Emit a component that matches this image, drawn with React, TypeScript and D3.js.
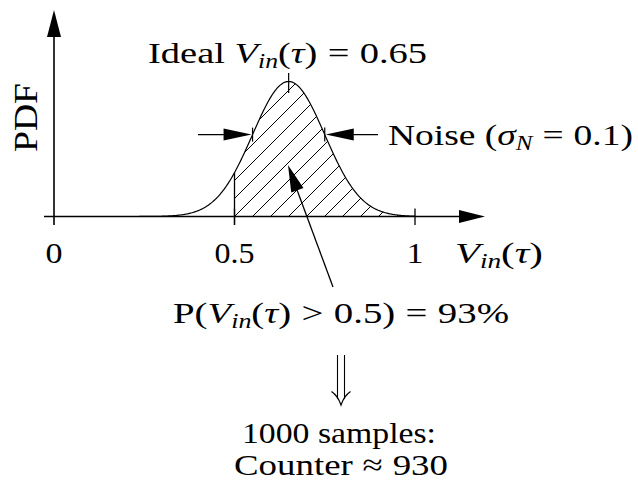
import React from "react";
import * as d3 from "d3";

// Noise model for the sampled input voltage
const MEAN = 0.65;
const SIGMA = 0.1;
const THRESHOLD = 0.5;
const PROBABILITY = 93; // percent above threshold
const SAMPLES = 1000;
const COUNTER = 930;
const X_TICKS = [0, 0.5, 1];
const X_TICK_LABELS = ["0", "0.5", "1"];

const W = 638;
const H = 481;
const FONT = "'Liberation Serif', 'Times New Roman', serif";
const FS = 30;
const SUB = 20;
const REL_GAP = 8; // extra room around relation symbols

const pdf = (v: number) =>
  Math.exp(-0.5 * ((v - MEAN) / SIGMA) ** 2) / (SIGMA * Math.sqrt(2 * Math.PI));

type Seg = { t: string; it?: boolean; sub?: boolean; rel?: boolean };

function MathText({
  x,
  y,
  segs,
  width,
  anchor = "start",
}: {
  x: number;
  y: number;
  segs: Seg[];
  width?: number;
  anchor?: string;
}) {
  const out: React.ReactNode[] = [];
  let lowered = false;
  let pendingGap = 0;
  segs.forEach((s, i) => {
    let dy = 0;
    if (s.sub && !lowered) {
      dy = 5;
      lowered = true;
    } else if (!s.sub && lowered) {
      dy = -5;
      lowered = false;
    }
    const dx = (s.rel ? REL_GAP : 0) + pendingGap;
    pendingGap = s.rel ? REL_GAP : 0;
    out.push(
      <tspan
        key={i}
        dy={dy || undefined}
        dx={dx || undefined}
        fontStyle={s.it ? "italic" : "normal"}
        fontSize={s.sub ? SUB : FS}
      >
        {s.t}
      </tspan>
    );
  });
  return (
    <text
      x={x}
      y={y}
      fontFamily={FONT}
      fontSize={FS}
      textAnchor={anchor}
      fill="#000"
      xmlSpace="preserve"
      textLength={width}
      lengthAdjust={width ? "spacingAndGlyphs" : undefined}
    >
      {out}
    </text>
  );
}

const vin: Seg[] = [
  { t: "V", it: true },
  { t: "in", it: true, sub: true },
  { t: "(" },
  { t: "τ", it: true },
  { t: ")" },
];
const rel = (op: string): Seg => ({ t: op, rel: true });

export default function App() {
  const x = d3.scaleLinear().domain([0, 1]).range([54, 415]);
  const y = d3.scaleLinear().domain([0, pdf(MEAN)]).range([216.5, 81.5]);
  const y0 = y(0);

  const grid = d3.range(0, 1.0001, 0.0025);
  const curve = d3.line<number>().x((d) => x(d)).y((d) => y(pdf(d)))(grid) as string;
  const tail = grid.filter((d) => d >= THRESHOLD);
  const area = d3.area<number>().x((d) => x(d)).y0(y0).y1((d) => y(pdf(d)))(tail) as string;

  // 45° hatch lines spaced along the axis from the threshold
  const step = 18;
  const hatch = d3.range(-12, 14).map((k) => x(THRESHOLD) + k * step);

  const tri = (tx: number, ty: number, dx: number, dy: number, len: number, hw: number) => {
    const n = Math.hypot(dx, dy);
    const ux = dx / n,
      uy = dy / n;
    const bx = tx - ux * len,
      by = ty - uy * len;
    return `M${tx},${ty}L${bx - uy * hw},${by + ux * hw}L${bx + uy * hw},${by - ux * hw}Z`;
  };

  const sL = x(MEAN - SIGMA);
  const sR = x(MEAN + SIGMA);
  const ay = y(pdf(MEAN + SIGMA));

  const ptTip = { x: 288, y: 165 };
  const ptEnd = { x: 333, y: 287 };

  return (
    <svg width={W} height={H} style={{ position: "absolute", left: 0, top: 0, background: "#fff" }}>
      <defs>
        <clipPath id="tail">
          <path d={area} />
        </clipPath>
      </defs>

      {/* hatched tail above threshold */}
      <g clipPath="url(#tail)">
        {hatch.map((h, i) => (
          <line key={i} x1={h} y1={y0} x2={h + 200} y2={y0 - 200} stroke="#000" strokeWidth={1} />
        ))}
      </g>
      <line x1={x(THRESHOLD)} y1={y(pdf(THRESHOLD))} x2={x(THRESHOLD)} y2={225} stroke="#000" strokeWidth={1.3} />

      {/* density curve */}
      <path d={curve} fill="none" stroke="#000" strokeWidth={1.2} />

      {/* axes */}
      <line x1={x(0)} y1={225} x2={x(0)} y2={36} stroke="#000" strokeWidth={1.6} />
      <path d={tri(x(0), 10, 0, -1, 27, 7)} fill="#000" />
      <line x1={44} y1={y0} x2={461} y2={y0} stroke="#000" strokeWidth={1.6} />
      <path d={tri(485, y0, 1, 0, 26, 6.5)} fill="#000" />
      {X_TICKS.slice(1).map((t) => (
        <line key={t} x1={x(t)} y1={y0 - 8} x2={x(t)} y2={225} stroke="#000" strokeWidth={1.3} />
      ))}
      {X_TICKS.map((t, i) => (
        <text
          key={t}
          x={x(t)}
          y={263}
          fontFamily={FONT}
          fontSize={FS}
          textAnchor="middle"
          textLength={X_TICK_LABELS[i].length > 1 ? 40 : 17}
          lengthAdjust="spacingAndGlyphs"
        >
          {X_TICK_LABELS[i]}
        </text>
      ))}
      <MathText x={455} y={263} segs={vin} width={88} />
      <text
        transform="translate(37,117.5) rotate(-90)"
        fontFamily={FONT}
        fontSize={34}
        textAnchor="middle"
        textLength={69}
        lengthAdjust="spacingAndGlyphs"
      >
        PDF
      </text>

      {/* mean marker */}
      <line x1={x(MEAN)} y1={73} x2={x(MEAN)} y2={93} stroke="#000" strokeWidth={1.2} />
      <MathText
        x={148}
        y={63}
        width={279}
        segs={[{ t: "Ideal " }, ...vin, rel("="), { t: String(MEAN) }]}
      />

      {/* ±σ width markers */}
      <line x1={sL} y1={ay - 7} x2={sL} y2={ay + 7} stroke="#000" strokeWidth={1.2} />
      <line x1={sR} y1={ay - 7} x2={sR} y2={ay + 7} stroke="#000" strokeWidth={1.2} />
      <line x1={198} y1={ay} x2={sL - 20} y2={ay} stroke="#000" strokeWidth={1.3} />
      <path d={tri(sL - 1, ay, 1, 0, 28, 6)} fill="#000" />
      <line x1={sR + 20} y1={ay} x2={378} y2={ay} stroke="#000" strokeWidth={1.3} />
      <path d={tri(sR + 1, ay, -1, 0, 28, 6)} fill="#000" />
      <MathText
        x={388}
        y={145}
        width={245}
        segs={[
          { t: "Noise (" },
          { t: "σ", it: true },
          { t: "N", it: true, sub: true },
          rel("="),
          { t: SIGMA + ")" },
        ]}
      />

      {/* probability pointer */}
      <line x1={ptEnd.x} y1={ptEnd.y} x2={ptTip.x + 5} y2={ptTip.y + 14} stroke="#000" strokeWidth={1.3} />
      <path d={tri(ptTip.x, ptTip.y, ptTip.x - ptEnd.x, ptTip.y - ptEnd.y, 27, 6.5)} fill="#000" />
      <MathText
        x={173}
        y={323}
        width={336}
        segs={[
          { t: "P(" },
          ...vin,
          rel(">"),
          { t: THRESHOLD + ")" },
          rel("="),
          { t: PROBABILITY + "%" },
        ]}
      />

      {/* implication arrow */}
      <line x1={337.5} y1={355} x2={337.5} y2={399} stroke="#000" strokeWidth={1.1} />
      <line x1={344.5} y1={355} x2={344.5} y2={399} stroke="#000" strokeWidth={1.1} />
      <path d="M331.5,391.5 Q338,396 341,405 Q344,396 350.5,391.5" fill="none" stroke="#000" strokeWidth={1.2} />

      <MathText x={339} y={443} width={194} anchor="middle" segs={[{ t: SAMPLES + " samples:" }]} />
      <MathText
        x={341}
        y={475}
        width={214}
        anchor="middle"
        segs={[{ t: "Counter" }, rel("≈"), { t: String(COUNTER) }]}
      />
    </svg>
  );
}
